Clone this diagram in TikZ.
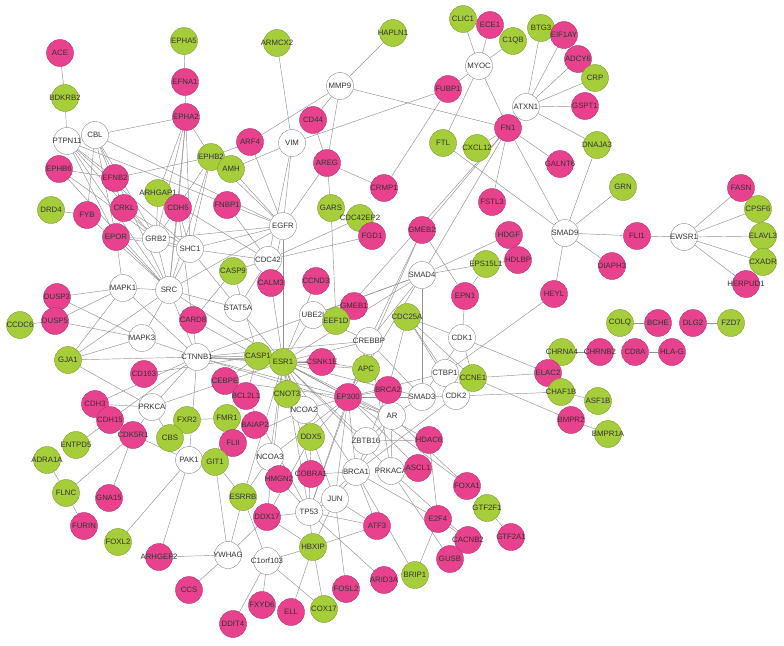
\documentclass[tikz,border=0pt]{standalone}
\usepackage{fontspec}
\setmainfont{Liberation Sans}
\usetikzlibrary{backgrounds}
\definecolor{pkf}{HTML}{E8428F}
\definecolor{pkd}{HTML}{B03070}
\definecolor{grf}{HTML}{A6CD3A}
\definecolor{grd}{HTML}{7E9A30}
\definecolor{whd}{HTML}{8A8A8A}
\definecolor{txt}{HTML}{333333}
\definecolor{edg}{HTML}{909090}
\newcommand{\zw}[1]{\makebox[0pt]{#1}}
\begin{document}
\begin{tikzpicture}[x=1pt,y=-1pt,
  nd/.style={circle,minimum size=27pt,inner sep=0pt,font=\fontsize{7.8}{8}\selectfont,text=txt,line width=0.4pt,execute at begin node=\zwbegin,execute at end node=\zwend},
  P/.style={nd,fill=pkf,draw=pkd},
  G/.style={nd,fill=grf,draw=grd},
  W/.style={nd,fill=white,draw=whd},
  e/.style={draw=edg,line width=0.45pt}]
\def\zwbegin{\setbox0=\hbox\bgroup}
\def\zwend{\egroup\makebox[0pt]{\box0}}
\useasboundingbox (0,0) rectangle (784,645);
% top-left
\node[P] (ACE) at (60,53) {ACE};
\node[G] (BDKRB2) at (65,98) {BDKRB2};
\node[W] (PTPN11) at (67,141) {PTPN11};
\node[W] (CBL) at (95,135) {CBL};
\node[G] (EPHA5) at (184,41) {EPHA5};
\node[P] (EFNA1) at (185,82) {EFNA1};
\node[P] (EPHA2) at (186,117) {EPHA2};
\node[P] (EPHB6) at (59,169) {EPHB6};
\node[P] (EFNB2) at (115,178) {EFNB2};
\node[G] (ARHGAP1) at (158,193) {ARHGAP1};
\node[G] (DRD4) at (51,210) {DRD4};
\node[P] (FYB) at (87,215) {FYB};
\node[P] (CRKL) at (124,208) {CRKL};
\node[P] (CDH5) at (178,208) {CDH5};
\node[G] (EPHB2) at (211,157) {EPHB2};
\node[G] (AMH) at (231,169) {AMH};
\node[G] (ARMCX2) at (277,43) {ARMCX2};
\node[W] (MMP9) at (340,86) {MMP9};
\node[P] (CD44) at (313,120) {CD44};
\node[P] (ARF4) at (250,142) {ARF4};
\node[W] (VIM) at (292,143) {VIM};
\node[P] (AREG) at (327,163) {AREG};
\node[P] (FNBP1) at (227,205) {FNBP1};
\node[G] (GARS) at (331,208) {GARS};
\node[G] (CDC42EP2) at (360,218) {CDC42EP2};
\node[P] (CRMP1) at (384,188) {CRMP1};
% top-right
\node[G] (HAPLN1) at (393,33) {HAPLN1};
\node[G] (CLIC1) at (463,19) {CLIC1};
\node[P] (ECE1) at (490,25) {ECE1};
\node[G] (C1QB) at (513,41) {C1QB};
\node[W] (MYOC) at (479,66) {MYOC};
\node[G] (BTG3) at (541,28) {BTG3};
\node[P] (EIF1AY) at (564,35) {EIF1AY};
\node[P] (ADCY6) at (578,59) {ADCY6};
\node[G] (CRP) at (595,78) {CRP};
\node[P] (GSPT1) at (585,106) {GSPT1};
\node[W] (ATXN1) at (526,107) {ATXN1};
\node[P] (FUBP1) at (448,89) {FUBP1};
\node[P] (FN1) at (508,128) {FN1};
\node[G] (FTL) at (443,143) {FTL};
\node[G] (CXCL12) at (477,148) {CXCL12};
\node[P] (GALNT6) at (560,164) {GALNT6};
\node[P] (FSTL3) at (492,202) {FSTL3};
\node[G] (DNAJA3) at (597,145) {DNAJA3};
\node[G] (GRN) at (623,187) {GRN};
\node[P] (FASN) at (741,188) {FASN};
\node[G] (CPSF6) at (758,209) {CPSF6};
\node[W] (SMAD9) at (565,233) {SMAD9};
\node[P] (FLI1) at (637,236) {FLI1};
\node[W] (EWSR1) at (684,237) {EWSR1};
\node[G] (ELAVL3) at (763,236) {ELAVL3};
\node[G] (CXADR) at (763,262) {CXADR};
\node[P] (HERPUD1) at (746,284) {HERPUD1};
\node[P] (DIAPH3) at (612,266) {DIAPH3};
\node[P] (HEYL) at (554,294) {HEYL};
\node[P] (HDGF) at (509,235) {HDGF};
\node[G] (EPS15L1) at (486,264) {EPS15L1};
\node[P] (HDLBP) at (518,260) {HDLBP};
\node[P] (GMEB2) at (422,230) {GMEB2};
\node[W] (SMAD4) at (422,275) {SMAD4};
\node[P] (EPN1) at (465,296) {EPN1};
\node[G] (CDC25A) at (407,317) {CDC25A};
\node[W] (CDK1) at (462,338) {CDK1};
\node[W] (CTBP1) at (445,373) {CTBP1};
\node[W] (CDK2) at (456,396) {CDK2};
\node[G] (CCNE1) at (473,378) {CCNE1};
\node[W] (SMAD3) at (422,397) {SMAD3};
\node[W] (AR) at (392,416) {AR};
\node[P] (BRCA2) at (388,390) {BRCA2};
\node[G] (CHRNA4) at (562,352) {CHRNA4};
\node[P] (ELAC2) at (548,373) {ELAC2};
\node[G] (CHAF1B) at (561,392) {CHAF1B};
\node[P] (BMPR2) at (571,420) {BMPR2};
\node[G] (BMPR1A) at (608,434) {BMPR1A};
\node[G] (ASF1B) at (598,401) {ASF1B};
\node[P] (CHRNB2) at (600,352) {CHRNB2};
\node[P] (CD8A) at (635,352) {CD8A};
\node[P] (HLAG) at (672,352) {HLA-G};
\node[G] (COLQ) at (620,323) {COLQ};
\node[P] (BCHE) at (658,323) {BCHE};
\node[P] (DLG2) at (693,323) {DLG2};
\node[G] (FZD7) at (731,323) {FZD7};
% left-middle
\node[P] (EPOR) at (116,237) {EPOR};
\node[W] (GRB2) at (156,239) {GRB2};
\node[W] (SHC1) at (190,249) {SHC1};
\node[W] (MAPK1) at (123,288) {MAPK1};
\node[W] (SRC) at (169,290) {SRC};
\node[P] (DUSP3) at (57,297) {DUSP3};
\node[P] (DUSP5) at (55,321) {DUSP5};
\node[G] (CCDC6) at (20,325) {CCDC6};
\node[P] (CARD8) at (193,320) {CARD8};
\node[W] (MAPK3) at (142,338) {MAPK3};
\node[G] (GJA1) at (68,360) {GJA1};
\node[W] (CTNNB1) at (197,357) {CTNNB1};
\node[P] (CD163) at (144,374) {CD163};
\node[P] (CDH3) at (95,404) {CDH3};
\node[W] (PRKCA) at (152,407) {PRKCA};
\node[P] (CDH15) at (110,420) {CDH15};
\node[G] (FXR2) at (187,420) {FXR2};
\node[P] (CDK5R1) at (133,435) {CDK5R1};
\node[G] (ENTPD5) at (76,445) {ENTPD5};
\node[G] (CBS) at (170,438) {CBS};
\node[W] (PAK1) at (189,460) {PAK1};
\node[G] (ADRA1A) at (47,460) {ADRA1A};
\node[G] (FLNC) at (66,493) {FLNC};
\node[P] (GNA15) at (109,498) {GNA15};
\node[P] (FURIN) at (84,526) {FURIN};
\node[G] (FOXL2) at (118,542) {FOXL2};
\node[P] (ARHGEF2) at (159,557) {ARHGEF2};
\node[P] (CCS) at (189,590) {CCS};
% centre
\node[W] (EGFR) at (283,226) {EGFR};
\node[W] (CDC42) at (268,260) {CDC42};
\node[G] (CASP9) at (233,271) {CASP9};
\node[P] (CALM3) at (271,283) {CALM3};
\node[P] (CCND3) at (316,281) {CCND3};
\node[P] (FGD1) at (372,236) {FGD1};
\node[W] (STAT5A) at (238,308) {STAT5A};
\node[W] (UBE2I) at (313,315) {UBE2I};
\node[P] (GMEB1) at (354,306) {GMEB1};
\node[G] (EEF1D) at (336,321) {EEF1D};
\node[W] (CREBBP) at (369,341) {CREBBP};
\node[G] (CASP1) at (258,356) {CASP1};
\node[G] (ESR1) at (283,362) {ESR1};
\node[P] (CSNK1E) at (322,362) {CSNK1E};
\node[G] (APC) at (366,369) {APC};
\node[P] (CEBPE) at (225,381) {CEBPE};
\node[W] (NCOA2) at (304,410) {NCOA2};
\node[P] (BCL2L1) at (246,396) {BCL2L1};
\node[G] (CNOT3) at (287,394) {CNOT3};
\node[P] (EP300) at (348,397) {EP300};
\node[G] (FMR1) at (227,418) {FMR1};
\node[P] (BAIAP2) at (255,425) {BAIAP2};
\node[P] (FLII) at (233,443) {FLII};
\node[G] (GIT1) at (215,462) {GIT1};
\node[W] (NCOA3) at (270,457) {NCOA3};
\node[G] (DDX5) at (311,437) {DDX5};
\node[W] (ZBTB16) at (366,441) {ZBTB16};
\node[P] (HMGN2) at (279,479) {HMGN2};
\node[P] (COBRA1) at (311,474) {COBRA1};
\node[W] (BRCA1) at (356,472) {BRCA1};
\node[W] (PRKACA) at (391,471) {PRKACA};
\node[W] (JUN) at (335,499) {JUN};
\node[W] (TP53) at (309,512) {TP53};
\node[G] (ESRRB) at (243,497) {ESRRB};
\node[P] (DDX17) at (267,517) {DDX17};
\node[G] (HBXIP) at (313,547) {HBXIP};
\node[P] (ATF3) at (377,526) {ATF3};
\node[W] (YWHAG) at (228,555) {YWHAG};
\node[W] (C1orf103) at (267,561) {C1orf103};
\node[P] (FOSL2) at (346,589) {FOSL2};
\node[P] (ARID3A) at (384,580) {ARID3A};
\node[P] (FXYD6) at (262,605) {FXYD6};
\node[P] (ELL) at (291,612) {ELL};
\node[G] (COX17) at (324,609) {COX17};
\node[P] (DDIT4) at (233,624) {DDIT4};
\node[P] (HDAC6) at (429,440) {HDAC6};
\node[P] (ASCL1) at (418,468) {ASCL1};
\node[P] (FOXA1) at (467,486) {FOXA1};
\node[G] (GTF2F1) at (487,508) {GTF2F1};
\node[P] (GTF2A1) at (511,537) {GTF2A1};
\node[P] (E2F4) at (438,519) {E2F4};
\node[P] (CACNB2) at (468,540) {CACNB2};
\node[P] (GUSB) at (450,559) {GUSB};
\node[G] (BRIP1) at (415,575) {BRIP1};

\begin{pgfonlayer}{background}
\foreach \a/\b in {ACE/BDKRB2, BDKRB2/PTPN11, PTPN11/CBL, EPHA5/EFNA1, EFNA1/EPHA2, CBL/EPHA2,
 EPHA2/EPHB2, EPHA2/CDH5, EPHA2/GRB2, EPHA2/SHC1, EPHA2/SRC, EPHA2/ARHGAP1,
 EPHB6/EFNB2, EPHB6/SRC, EPHB6/GRB2, EFNB2/EPHB2, EFNB2/PTPN11,
 PTPN11/GRB2, PTPN11/SHC1, PTPN11/EPOR, PTPN11/EGFR, PTPN11/SRC,
 CBL/GRB2, CBL/CRKL, CBL/SRC, CBL/EGFR, CBL/EPOR, CBL/FYB,
 DRD4/FYB, FYB/SRC, CRKL/GRB2, CRKL/EPOR, CRKL/SHC1,
 ARHGAP1/CDC42, ARHGAP1/GRB2, CDH5/CTNNB1, CDH5/SRC, CDH5/SHC1,
 EPHB2/SRC, EPHB2/EGFR, EPHB2/ARF4, EPHB2/GRB2, EPHB2/SHC1,
 AMH/VIM, AMH/EGFR, FNBP1/CDC42, ARF4/MMP9, ARF4/EGFR,
 ARMCX2/VIM, HAPLN1/MMP9, MMP9/CD44, MMP9/AREG, MMP9/FN1,
 VIM/FUBP1, VIM/EGFR, VIM/CDC42, CD44/AREG,
 AREG/EGFR, AREG/GARS, AREG/CRMP1, CRMP1/FUBP1, GARS/EEF1D,
 CDC42EP2/CDC42, FGD1/CDC42,
 MYOC/CLIC1, MYOC/ECE1, MYOC/C1QB, MYOC/FUBP1, MYOC/FN1, MYOC/FTL,
 ATXN1/BTG3, ATXN1/EIF1AY, ATXN1/ADCY6, ATXN1/CRP, ATXN1/GSPT1, ATXN1/DNAJA3,
 FN1/CXCL12, FN1/GALNT6, FN1/FSTL3, FN1/SMAD9, FTL/SMAD9, DNAJA3/SMAD9, GRN/SMAD9,
 FN1/GMEB2, FN1/SMAD4, FN1/EEF1D,
 SMAD9/FLI1, FLI1/EWSR1, EWSR1/FASN, EWSR1/CPSF6, EWSR1/ELAVL3, EWSR1/CXADR, EWSR1/HERPUD1,
 SMAD9/DIAPH3, SMAD9/HEYL, HEYL/CTBP1,
 HDGF/SMAD4, EPS15L1/SMAD4, EPS15L1/HDLBP, EPS15L1/EPN1,
 GMEB2/EPN1, GMEB2/CREBBP, GMEB2/EP300, EPN1/CDK1,
 SMAD4/SMAD3, SMAD4/CREBBP, SMAD4/EP300, SMAD4/CTNNB1, SMAD4/ESR1,
 CDK1/CCNE1, CDK1/CDC25A, CDK1/ELAC2, CDK1/SMAD3,
 CCNE1/CDK2, CCNE1/ELAC2, CCNE1/BMPR2, CCNE1/CDC25A,
 CDK2/CHAF1B, CDK2/SMAD3, CDK2/CDC25A, CDK2/BRCA1,
 CTBP1/EP300, CDC25A/CTBP1, CDC25A/BRCA2,
 CHAF1B/ASF1B, BMPR2/BMPR1A, CHRNA4/CHRNB2, CD8A/HLAG, COLQ/BCHE, DLG2/FZD7,
 EPOR/GRB2, EPOR/SHC1, EPOR/MAPK1, EPOR/SRC,
 GRB2/SHC1, GRB2/EGFR, GRB2/SRC, SHC1/EGFR, SHC1/SRC, SHC1/STAT5A, SHC1/CDC42,
 MAPK1/SRC, MAPK1/CTNNB1, MAPK1/DUSP3, MAPK1/DUSP5, MAPK1/GJA1,
 MAPK3/SRC, MAPK3/DUSP3, MAPK3/DUSP5, MAPK3/GJA1, MAPK3/CTNNB1,
 SRC/CTNNB1, SRC/STAT5A, SRC/EGFR, SRC/ESR1,
 CCDC6/DUSP5, GJA1/SRC, GJA1/PRKCA, GJA1/CTNNB1,
 CARD8/CASP1, CARD8/CASP9,
 CTNNB1/PRKCA, CTNNB1/CASP1, CTNNB1/ESR1, CTNNB1/APC, CTNNB1/EP300, CTNNB1/CREBBP,
 CTNNB1/CDH3, CTNNB1/CDH15, CTNNB1/CSNK1E, CTNNB1/AR,
 CD163/CASP1, CDH3/PRKCA, ENTPD5/CDH15, PRKCA/CDK5R1, PRKCA/ESR1,
 CDK5R1/FLNC, CDK5R1/GNA15, CDK5R1/PAK1,
 ADRA1A/FLNC, FLNC/FURIN, FOXL2/PAK1, ARHGEF2/PAK1, ARHGEF2/YWHAG, CCS/YWHAG,
 PAK1/GIT1, PAK1/CTNNB1, FXR2/FMR1, CBS/PRKCA,
 GIT1/YWHAG, GIT1/ESRRB, YWHAG/ESRRB, YWHAG/DDX17,
 C1orf103/HBXIP, C1orf103/ESRRB, C1orf103/FXYD6, C1orf103/DDIT4, C1orf103/COX17,
 HBXIP/TP53, HBXIP/JUN, HBXIP/ATF3, HBXIP/ELL, HBXIP/COX17, HBXIP/DDX17,
 TP53/JUN, TP53/ATF3, TP53/BRCA1, TP53/DDX5, TP53/EP300, TP53/ESR1, TP53/DDX17,
 TP53/ARID3A, TP53/HMGN2, TP53/CREBBP,
 JUN/FOSL2, JUN/ATF3, JUN/BRCA1, JUN/ESR1, JUN/EP300,
 BRCA1/BRIP1, BRCA1/ESR1, BRCA1/COBRA1, BRCA1/AR, BRCA1/E2F4, BRCA1/ATF3, BRCA1/EP300,
 E2F4/BRIP1, E2F4/HDAC6, E2F4/CACNB2, GUSB/PRKACA, CACNB2/PRKACA,
 ASCL1/EP300, FOXA1/EP300, FOXA1/AR, GTF2F1/GTF2A1,
 HDAC6/ZBTB16, HDAC6/ESR1, ZBTB16/AR,
 PRKACA/AR, PRKACA/ESR1, PRKACA/CREBBP,
 AR/SMAD3, AR/EP300, AR/ESR1, SMAD3/EP300, SMAD3/CREBBP, SMAD3/ESR1,
 BRCA2/EP300, BRCA2/BRCA1,
 EP300/ESR1, EP300/CREBBP, EP300/NCOA2, EP300/NCOA3, EP300/DDX5, EP300/CEBPE,
 CREBBP/ESR1, CREBBP/UBE2I,
 ESR1/CNOT3, ESR1/NCOA2, ESR1/NCOA3, ESR1/DDX5, ESR1/DDX17, ESR1/CALM3, ESR1/EGFR,
 ESR1/CCND3, ESR1/UBE2I, ESR1/STAT5A, ESR1/CSNK1E, ESR1/COBRA1, ESR1/ZBTB16, ESR1/ESRRB,
 CASP1/CASP9, CASP1/BCL2L1, CASP1/CEBPE, CSNK1E/APC, UBE2I/SMAD4, GMEB1/UBE2I,
 NCOA3/ESRRB, DDX5/DDX17, FLII/NCOA2, BCL2L1/TP53, FMR1/GIT1, HMGN2/NCOA3,
 CALM3/EGFR, STAT5A/CDC42, CASP9/CDC42}
 \draw[e] (\a) -- (\b);
\end{pgfonlayer}
\end{tikzpicture}
\end{document}
